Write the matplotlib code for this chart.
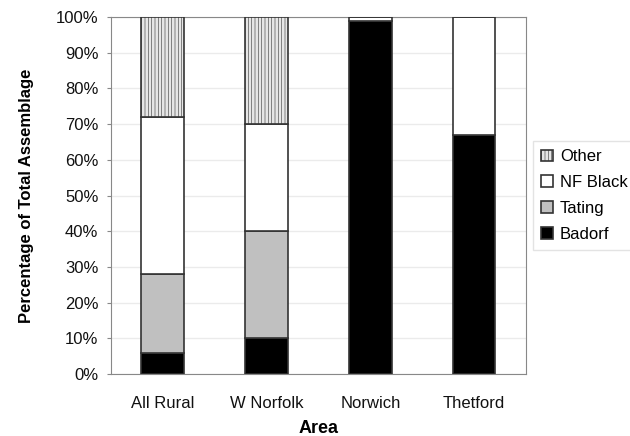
import matplotlib
matplotlib.use("Agg")
import matplotlib.pyplot as plt
import numpy as np
from matplotlib.ticker import PercentFormatter

plt.rcParams['font.family'] = ['Liberation Sans', 'DejaVu Sans']
plt.rcParams['hatch.color'] = '#d6d6d6'
plt.rcParams['hatch.linewidth'] = 0.4

areas = ["All Rural", "W Norfolk", "Norwich", "Thetford"]
badorf = [6, 10, 99, 67]
tating = [22, 30, 0, 0]
nf_black = [44, 30, 1, 33]
other = [28, 30, 0, 0]

fig = plt.figure(figsize=(6.3, 4.36), dpi=100)
ax = fig.add_axes([0.176, 0.142, 0.659, 0.819])

x = np.arange(len(areas))
w = 0.41
ec = '#333333'
b1 = ax.bar(x, badorf, w, color='black', edgecolor=ec, linewidth=1.2, label='Badorf', zorder=3)
bottom = np.array(badorf, dtype=float)
b2 = ax.bar(x, tating, w, bottom=bottom, color='#c0c0c0', edgecolor=ec, linewidth=1.2, label='Tating', zorder=3)
bottom += tating
b3 = ax.bar(x, nf_black, w, bottom=bottom, color='white', edgecolor=ec, linewidth=1.2, label='NF Black', zorder=3)
bottom += nf_black
b4 = ax.bar(x, other, w, bottom=bottom, color='#e6e6e6', edgecolor=ec, linewidth=1.2, hatch='|||||', label='Other', zorder=3)

ax.set_xlim(-0.5, 3.5)
ax.set_ylim(0, 100)
ax.set_yticks(np.arange(0, 101, 10))
ax.yaxis.set_major_formatter(PercentFormatter(decimals=0))
ax.set_xticks(x)
ax.set_xticklabels(areas)
ax.grid(axis='y', color='#ebebeb', linewidth=1, zorder=0)
for s in ax.spines.values():
    s.set_color('#888888')
ax.tick_params(axis='both', labelsize=12, colors='#888888', labelcolor='#111111', length=3)
ax.tick_params(axis='y', pad=6)
ax.tick_params(axis='x', length=0, pad=16)

ax.set_ylabel('Percentage of Total Assemblage', fontsize=12, fontweight='bold', labelpad=16)
ax.set_xlabel('Area', fontsize=13, fontweight='bold', labelpad=6)

leg = ax.legend(handles=[b4, b3, b2, b1], loc='center left', bbox_to_anchor=(1.005, 0.5),
                fontsize=12, frameon=True, fancybox=False, edgecolor='#dddddd',
                handlelength=0.7, handleheight=0.7, handletextpad=0.4, labelspacing=0.65,
                borderaxespad=0.3, borderpad=0.5)

fig.savefig('out.png', dpi=100)
